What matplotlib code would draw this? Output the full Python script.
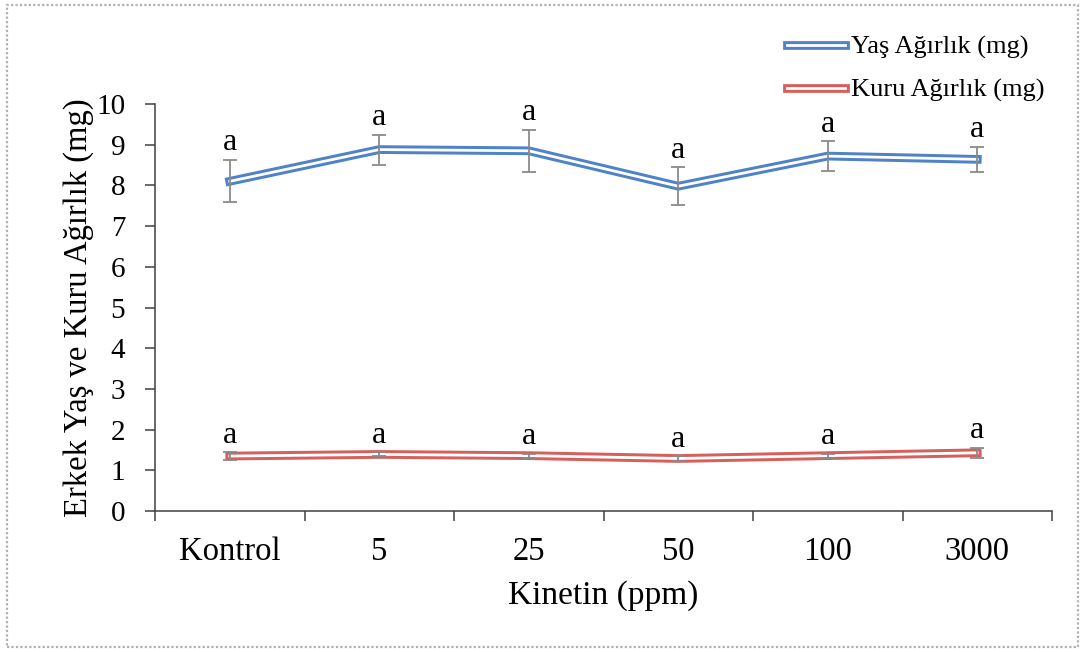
import matplotlib
matplotlib.use("Agg")
import matplotlib.pyplot as plt
from matplotlib.lines import Line2D
from matplotlib.patches import Rectangle
import numpy as np

categories = ["Kontrol", "5", "25", "50", "100", "3000"]
yas = [8.10, 8.88, 8.85, 7.98, 8.72, 8.64]
yas_err = [0.52, 0.37, 0.52, 0.46, 0.36, 0.30]
kuru = [1.35, 1.39, 1.36, 1.29, 1.36, 1.43]
kuru_err = [0.09, 0.05, 0.05, 0.05, 0.05, 0.12]
yas_letters = ["a", "a", "a", "a", "a", "a"]
kuru_letters = ["a", "a", "a", "a", "a", "a"]
yticks = [0, 1, 2, 3, 4, 5, 6, 7, 8, 9, 10]

plt.rcParams['font.family'] = ['Liberation Serif', 'DejaVu Serif']

W, H = 1083, 652
fig = plt.figure(figsize=(W / 100, H / 100), dpi=100)
fig.patch.set_facecolor('white')

# dotted border
fig.add_artist(Rectangle((7 / W, 1 - 647 / H), (1078 - 7) / W, (647 - 5) / H,
                         transform=fig.transFigure, fill=False,
                         edgecolor='#b0b0b0', lw=1.6, linestyle=(0, (1, 1))))

ax = fig.add_axes([155 / W, 1 - 511 / H, (1052 - 155) / W, (511 - 104) / H])
x = np.arange(len(categories))

blue = '#4f82c6'
red = '#d6605e'
errc = '#8a8a8a'
outer_lw = 6.3
inner_lw = 2.0

for vals, errs, col, letters in [(yas, yas_err, blue, yas_letters),
                                 (kuru, kuru_err, red, kuru_letters)]:
    ax.plot(x, vals, color=col, lw=outer_lw, zorder=2, solid_joinstyle='miter')
    ax.plot(x, vals, color='white', lw=inner_lw, zorder=3, solid_joinstyle='miter')
    ax.errorbar(x, vals, yerr=errs, fmt='none', ecolor=errc, elinewidth=1.3,
                capsize=5, capthick=1.3, zorder=4)
    for xi, v, e, t in zip(x, vals, errs, letters):
        ax.annotate(t, (xi, v + e), xytext=(0, 2), textcoords='offset points',
                    ha='center', va='bottom', fontsize=23)

ax.set_xlim(-0.5, len(categories) - 0.5)
ax.set_ylim(0, 10)
ax.set_yticks(yticks)
ax.set_yticklabels([str(t) for t in yticks])
ax.set_xticks(x)
ax.set_xticklabels(categories)
ax.set_xticks(np.arange(-0.5, len(categories), 1.0), minor=True)
ax.tick_params(axis='x', which='major', length=0, pad=18, labelsize=23.5)
ax.tick_params(axis='x', which='minor', length=7, width=1.1, direction='out', color='#404040')
ax.tick_params(axis='y', length=7, width=1.1, direction='out', color='#404040', labelsize=21, pad=14.5)

for s in ['top', 'right']:
    ax.spines[s].set_visible(False)
for s in ['left', 'bottom']:
    ax.spines[s].set_color('#404040')
    ax.spines[s].set_linewidth(1.1)

ax.set_ylabel("Erkek Yaş ve Kuru Ağırlık (mg)", fontsize=23.5)
ax.yaxis.set_label_coords(-0.068, 0.5)
ax.set_xlabel("Kinetin (ppm)", fontsize=24, labelpad=10)

h1 = (Line2D([], [], color=blue, lw=outer_lw), Line2D([], [], color='white', lw=inner_lw))
h2 = (Line2D([], [], color=red, lw=outer_lw), Line2D([], [], color='white', lw=inner_lw))
fig.legend([h1, h2], ["Yaş Ağırlık (mg)", "Kuru Ağırlık (mg)"],
           loc='upper left', bbox_to_anchor=(776 / W, 1 - 25 / H),
           bbox_transform=fig.transFigure, frameon=False, fontsize=19,
           handlelength=2.2, handletextpad=0.25, labelspacing=0.72,
           borderaxespad=0)

fig.savefig("out.png", dpi=100, facecolor='white')
